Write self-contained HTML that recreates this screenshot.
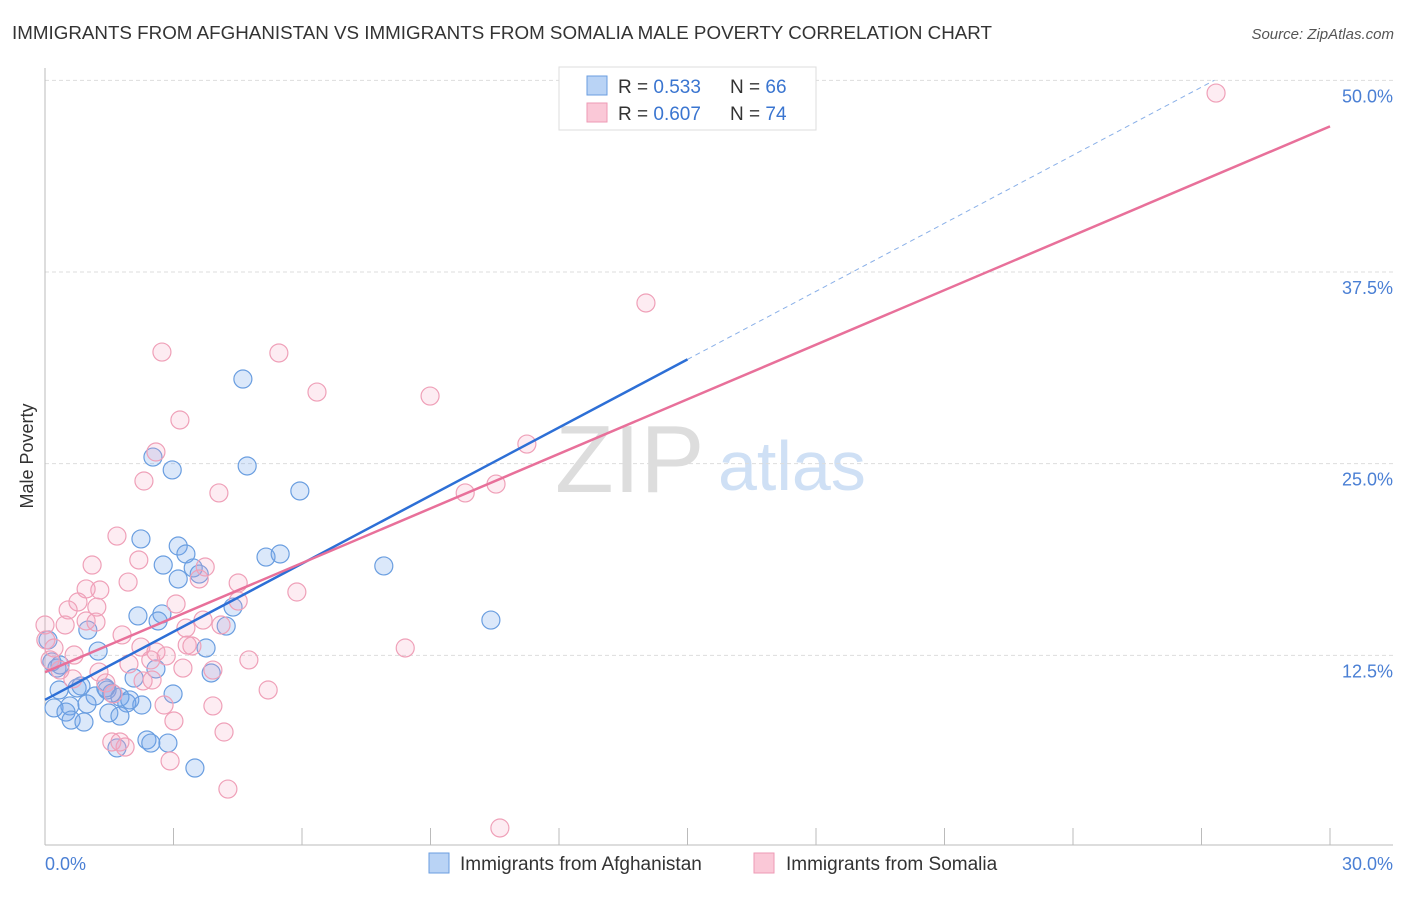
<!DOCTYPE html>
<html><head><meta charset="utf-8"><style>
body{margin:0;background:#fff;font-family:"Liberation Sans",sans-serif;}
svg text{font-family:"Liberation Sans",sans-serif;}
</style></head><body>
<svg id="chart" width="1406" height="892" xmlns="http://www.w3.org/2000/svg">
<text x="12" y="39" font-size="18" fill="#333" textLength="980" lengthAdjust="spacingAndGlyphs">IMMIGRANTS FROM AFGHANISTAN VS IMMIGRANTS FROM SOMALIA MALE POVERTY CORRELATION CHART</text>
<text x="1394" y="39" font-size="15" fill="#555" text-anchor="end" font-style="italic">Source: ZipAtlas.com</text>
<text transform="translate(33,456) rotate(-90)" font-size="18" fill="#333" text-anchor="middle">Male Poverty</text>
<g>
<text x="555" y="492" font-size="96" fill="#ddd" font-family="Liberation Serif,serif">ZIP</text>
<text x="718" y="490" font-size="70" fill="#cfe0f5">atlas</text>
</g>
<g id="grid"></g><g id="axes"></g><g id="pts"></g><g id="lines"></g>
<g>
<rect x="559" y="67" width="257" height="63" fill="#fff" stroke="#ddd"/>
<rect x="587" y="76" width="20" height="19" fill="#b9d3f5" stroke="#6a9ee0"/>
<rect x="587" y="103" width="20" height="19" fill="#fac8d7" stroke="#ee9ab4"/>
<text x="618" y="93" font-size="19" fill="#333">R = <tspan fill="#3a75d0">0.533</tspan><tspan x="730">N = </tspan><tspan fill="#3a75d0">66</tspan></text>
<text x="618" y="120" font-size="19" fill="#333">R = <tspan fill="#3a75d0">0.607</tspan><tspan x="730">N = </tspan><tspan fill="#3a75d0">74</tspan></text>
</g>
<g>
<rect x="429" y="853" width="20" height="20" fill="#b9d3f5" stroke="#6a9ee0"/>
<text x="460" y="870" font-size="19" fill="#333">Immigrants from Afghanistan</text>
<rect x="754" y="853" width="20" height="20" fill="#fac8d7" stroke="#ee9ab4"/>
<text x="786" y="870" font-size="19" fill="#333">Immigrants from Somalia</text>
</g>
</svg>
<script>
const blueX=[4.62,2.52,2.97,4.72,5.95,2.24,3.11,3.29,2.76,3.11,3.46,3.60,5.16,5.49,7.91,10.41,4.39,2.17,2.73,2.64,4.23,1.00,3.76,1.24,2.59,3.88,2.08,0.16,0.28,0.33,0.75,0.84,1.45,1.56,1.17,1.75,1.91,2.99,2.26,0.98,0.58,0.21,0.49,0.61,0.91,1.49,1.75,1.68,2.38,2.47,2.87,3.50,0.35,0.07,1.42,1.98];
const blueY=[30.52,25.43,24.59,24.85,23.22,20.09,19.63,19.11,18.39,17.48,18.20,17.80,18.91,19.11,18.33,14.80,15.65,15.07,15.20,14.74,14.41,14.15,12.98,12.78,11.61,11.35,11.02,12.07,11.67,10.24,10.37,10.50,10.24,10.04,9.85,9.78,9.39,9.98,9.26,9.33,9.20,9.07,8.80,8.28,8.15,8.74,8.54,6.46,6.98,6.78,6.78,5.15,11.87,13.50,10.37,9.59];
const pinkX=[27.34,14.03,2.73,5.46,6.35,8.99,3.15,11.25,2.59,2.31,9.81,10.53,4.06,1.68,1.10,2.19,3.74,3.60,1.94,4.51,1.28,0.96,5.88,0.77,0.54,1.21,3.06,4.51,0.96,0.47,1.19,3.29,3.69,4.11,1.80,0,0.02,0.21,0.68,2.24,2.59,3.32,3.43,2.83,4.76,2.47,1.96,1.26,3.22,3.92,8.41,5.21,1.42,2.29,2.50,0.65,1.59,2.78,3.92,3.01,4.18,1.56,1.87,1.75,2.92,4.27,10.62,0.35,0.12];
const pinkY=[49.17,35.48,32.28,32.22,29.67,29.41,27.85,26.28,25.76,23.87,23.09,23.67,23.09,20.28,18.39,18.72,18.26,17.48,17.28,17.22,16.76,16.83,16.63,15.98,15.46,15.65,15.85,16.04,14.74,14.48,14.67,14.28,14.80,14.48,13.83,14.48,13.50,12.98,12.52,13.04,12.72,13.17,13.11,12.46,12.20,12.20,11.94,11.41,11.67,11.54,12.98,10.24,10.70,10.83,10.89,10.96,9.98,9.26,9.20,8.22,7.50,6.85,6.52,6.85,5.61,3.78,1.24,11.54,12.20];
const yTicks=[12.5,25,37.5,50];
const yTickLabels=["12.5%","25.0%","37.5%","50.0%"];
const xTickVals=[0,3,6,9,12,15,18,21,24,27,30];
const xEndLabels=["0.0%","30.0%"];
const blueTrend=[9.6,31.8];
const pinkTrend=[11.4,47.0];

const NS="http://www.w3.org/2000/svg";
const sx=v=>45+v*1285/30, sy=v=>847-v*15.333;
function mk(tag,attrs,parent){const e=document.createElementNS(NS,tag);for(const k in attrs)e.setAttribute(k,attrs[k]);document.getElementById(parent).appendChild(e);return e;}
yTicks.forEach((t,i)=>{
 const g=mk('line',{x1:45,x2:1393,y1:sy(t),y2:sy(t),stroke:'#ddd','stroke-dasharray':'4,3'},'grid');
 
 
 const l=mk('text',{x:1393,y:sy(t)+22,'font-size':18,fill:'#4a7fd4','text-anchor':'end'},'axes');
 l.textContent=yTickLabels[i];
 
 
});
const ax=mk('line',{x1:45,x2:1393,y1:845,y2:845,stroke:'#bbb'},'axes');


const ay=mk('line',{x1:45,x2:45,y1:68,y2:845,stroke:'#bbb'},'axes');


xTickVals.forEach(t=>{
 const k=mk('line',{x1:sx(t),x2:sx(t),y1:828,y2:845,stroke:'#bbb'},'axes');
 
 
});
const l0=mk('text',{x:45,y:870,'font-size':18,fill:'#4a7fd4'},'axes');l0.textContent=xEndLabels[0];


const l1=mk('text',{x:1393,y:870,'font-size':18,fill:'#4a7fd4','text-anchor':'end'},'axes');l1.textContent=xEndLabels[1];


blueX.forEach((x,i)=>{
 const c=mk('circle',{cx:sx(x),cy:sy(blueY[i]),r:9,fill:'rgba(110,165,235,0.25)',stroke:'#6a9ee0','stroke-width':1.2},'pts');
 
 
});
pinkX.forEach((x,i)=>{
 const c=mk('circle',{cx:sx(x),cy:sy(pinkY[i]),r:9,fill:'rgba(245,160,190,0.2)',stroke:'#efa0b8','stroke-width':1.2},'pts');
 
 
});
const bs=(blueTrend[1]-blueTrend[0])/15;
const bd=mk('line',{x1:sx(15),y1:sy(blueTrend[1]),x2:sx(27.3),y2:sy(blueTrend[0]+bs*27.3),stroke:'#8ab0e8','stroke-width':1,'stroke-dasharray':'5,4'},'lines');


const bl=mk('line',{x1:sx(0),y1:sy(blueTrend[0]),x2:sx(15),y2:sy(blueTrend[1]),stroke:'#2d6fd6','stroke-width':2.5},'lines');


const pl=mk('line',{x1:sx(0),y1:sy(pinkTrend[0]),x2:sx(30),y2:sy(pinkTrend[1]),stroke:'#e8709a','stroke-width':2.5},'lines');


</script>
</body></html>
